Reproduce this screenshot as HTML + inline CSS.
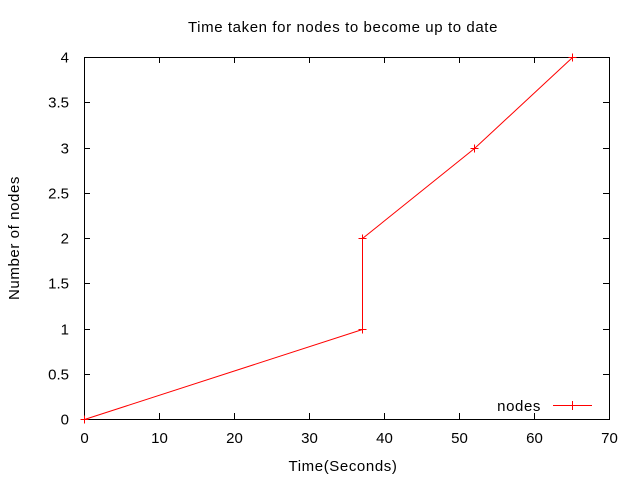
<!DOCTYPE html>
<html><head><meta charset="utf-8"><style>
html,body{margin:0;padding:0;background:#fff;}
svg{display:block;font-family:"Liberation Sans",sans-serif;font-size:15px;}
</style></head><body>
<svg id="chart" width="640" height="480" xmlns="http://www.w3.org/2000/svg">
<text x="343" y="32" text-anchor="middle" letter-spacing="0.6">Time taken for nodes to become up to date</text>
<text x="343" y="471" text-anchor="middle" letter-spacing="0.6">Time(Seconds)</text>
<text transform="translate(19,238) rotate(-90)" text-anchor="middle" letter-spacing="0.6">Number of nodes</text>
<g id="axes"></g>
<g id="series"></g>
<g>
<text x="541" y="411" text-anchor="end" letter-spacing="0.6">nodes</text>
<line x1="553" y1="405.5" x2="592" y2="405.5" stroke="#f00" stroke-width="1"/>
<line x1="572.5" y1="401" x2="572.5" y2="410" stroke="#f00"/>
</g>
</svg>
<script>
const xTicks=[0,10,20,30,40,50,60,70];
const yTicks=[0,0.5,1,1.5,2,2.5,3,3.5,4];
const xValues=[0,37,37,52,65];
const yValues=[0,1,2,3,4];
const L=84,R=609,T=57,B=419;
const sx=v=>Math.round(L+(v-0)/(70-0)*(R-L))+0.5;
const sy=v=>Math.round(B-(v-0)/(4-0)*(B-T))+0.5;
const NS="http://www.w3.org/2000/svg";
const axes=document.getElementById('axes');
const series=document.getElementById('series');
function mk(tag,attrs,parent){const e=document.createElementNS(NS,tag);for(const k in attrs)e.setAttribute(k,attrs[k]);parent.appendChild(e);return e;}
const frame=mk('rect',{x:L+0.5,y:T+0.5,width:R-L,height:B-T,fill:'none',stroke:'#000','stroke-width':1},axes);


xTicks.forEach(t=>{
  const x=sx(t);
  const a=mk('line',{x1:x,y1:B,x2:x,y2:B-6,stroke:'#000'},axes);
  
  
  const b=mk('line',{x1:x,y1:T,x2:x,y2:T+6,stroke:'#000'},axes);
  
  
  const tx=mk('text',{x:x,y:B+24,'text-anchor':'middle'},axes);
  tx.textContent=t;
  
  
});
yTicks.forEach(t=>{
  const y=sy(t);
  const a=mk('line',{x1:L,y1:y,x2:L+6,y2:y,stroke:'#000'},axes);
  
  
  const b=mk('line',{x1:R,y1:y,x2:R-6,y2:y,stroke:'#000'},axes);
  
  
  const tx=mk('text',{x:L-15,y:y+5,'text-anchor':'end'},axes);
  tx.textContent=t;
  
  
});
const pts=xValues.map((v,i)=>sx(v)+','+sy(yValues[i])).join(' ');
const pl=mk('polyline',{points:pts,fill:'none',stroke:'#f00','stroke-width':1},series);


xValues.forEach((v,i)=>{
  const x=sx(v),y=sy(yValues[i]);
  const g=mk('path',{d:`M${x-4},${y}H${x+4}M${x},${y-4}V${y+4}`,stroke:'#f00','stroke-width':1},series);
  
  
});
</script>
</body></html>
